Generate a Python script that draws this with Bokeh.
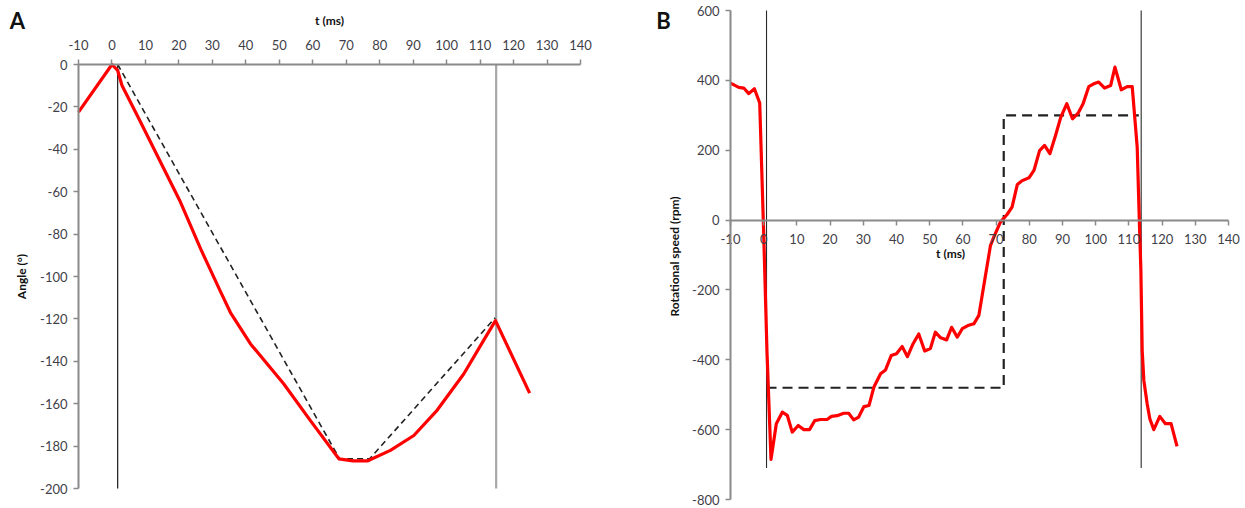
import math
from bokeh.plotting import figure
from bokeh.models import Range1d, LinearAxis, FixedTicker, Label
from bokeh.layouts import row
from bokeh.embed import file_html
from bokeh.resources import INLINE

# ---------------- Panel A data ----------------
a_t = [-10, 0, 1.7, 3, 8.5, 14.5, 20.5, 26.5, 32.4, 35.4, 41.4, 51.3, 59.3,
       67.8, 72, 76.3, 83.2, 90.2, 97.2, 105.1, 111.1, 114.6, 124.8]
a_angle = [-22.5, 0, -2.8, -9.9, -27, -46, -65, -87, -107, -117, -131.8, -150.6, -168,
           -186, -187, -187, -182, -175, -163, -146, -130, -120.8, -155]
a_model_t = [1.7, 68, 77, 114.5]
a_model_angle = [0, -186, -186, -119.5]
a_mark_t = [1.7, 114.8]
a_mark_color = ["#1a1a1a", "#a6a6a6"]
a_mark_width = [1.2, 2.2]
a_xticks = list(range(-10, 141, 10))
a_yticks = list(range(-200, 1, 20))

# ---------------- Panel B data ----------------
b_t = [-10, -7.5, -6, -4.5, -2.8, -1.2, 0, 1, 2.2, 3.8, 5.6, 7.1, 8.6, 10.4, 12.1,
       13.8, 15.4, 17.1, 19.1, 20.4, 22.1, 24.1, 25.6, 27.1, 28.6, 30.2, 31.7, 33.2,
       35.2, 36.7, 38.4, 40.0, 41.7, 43.3, 45.0, 46.7, 48.5, 50.2, 51.7, 53.3, 55.1,
       56.6, 58.3, 59.8, 61.5, 63.3, 64.8, 66.8, 68.3, 69.3, 71.3, 73.3, 74.8, 76.4,
       77.9, 79.9, 81.4, 83.1, 84.6, 86.2, 87.9, 89.5, 91.3, 93.0, 94.7, 96.2, 97.9,
       99.4, 100.9, 102.7, 104.5, 105.8, 107.7, 109.5, 111.0, 112.5, 113.2, 113.6,
       114.0, 114.5, 115.5, 116.3, 117.5, 119.3, 121.0, 122.7, 124.5]
b_rpm = [392, 380, 378, 362, 376, 335, -40, -380, -685, -583, -550, -559, -607, -588, -600,
         -600, -574, -571, -571, -562, -560, -553, -553, -572, -564, -534, -531, -478,
         -440, -429, -388, -383, -362, -391, -354, -326, -375, -368, -321, -337, -343,
         -307, -335, -311, -302, -297, -273, -159, -73, -49, -6, 16, 37, 102,
         113, 121, 142, 199, 214, 190, 242, 295, 333, 290, 306, 333, 382,
         390, 395, 378, 385, 438, 373, 382, 382, 209, -20, -140,
         -373, -459, -526, -569, -600, -562, -583, -583, -648]
assert len(b_t) == len(b_rpm)
b_model_t = [0.85, 72.3, 72.3, 113]
b_model_rpm = [-480, -480, 300, 300]
b_mark_t = [0.85, 113.7]
b_mark_top = [600, 600]
b_mark_bottom = [-710, -710]
b_xticks = list(range(-10, 141, 10))
b_yticks = list(range(-800, 601, 200))

FONT = "Lato"
TICK_COLOR = "#3f3f4a"
AXIS_COLOR = "#8a8a8a"
RED = "#ff0000"


def lin(p0, v0, p1, v1):
    """page pixel -> data value (layout helper)"""
    return lambda p: v0 + (p - p0) * (v1 - v0) / (p1 - p0)


def make_axis(loc, bounds, ticks, standoff):
    ax = LinearAxis(fixed_location=loc, bounds=bounds, ticker=FixedTicker(ticks=ticks),
                    major_label_overrides={t: str(t) for t in ticks})
    ax.axis_line_color = AXIS_COLOR
    ax.axis_line_width = 2
    ax.major_tick_line_color = AXIS_COLOR
    ax.major_tick_line_width = 1.5
    ax.major_tick_out = 5
    ax.major_tick_in = 0
    ax.minor_tick_line_color = None
    ax.major_label_text_font = FONT
    ax.major_label_text_font_size = "13px"
    ax.major_label_text_color = TICK_COLOR
    ax.major_label_standoff = standoff
    return ax


def text_label(x, y, text, size, angle=0.0):
    return Label(x=x, y=y, text=text, angle=angle, text_font=FONT, text_font_style="bold",
                 text_font_size=size, text_color="#111111",
                 text_align="center", text_baseline="middle")


# ---------------- Panel A ----------------
A_LEFT, A_RIGHT, A_TOP, A_BOTTOM = 0, 620, 0, 500
ax_x = lin(78, -10, 580, 140)
ax_y = lin(64, 0, 488, -200)
pA = figure(width=A_RIGHT - A_LEFT, height=A_BOTTOM - A_TOP, output_backend="svg",
            toolbar_location=None,
            x_range=Range1d(ax_x(A_LEFT), ax_x(A_RIGHT)),
            y_range=Range1d(ax_y(A_BOTTOM), ax_y(A_TOP)),
            x_axis_location=None, y_axis_location=None, min_border=0)
pA.outline_line_color = None
pA.grid.visible = False
pA.add_layout(make_axis(0, (-10, 140), a_xticks, 10), "above")
pA.add_layout(make_axis(-10, (-200, 0), a_yticks, 6), "left")

for t, c, w in zip(a_mark_t, a_mark_color, a_mark_width):
    pA.segment(x0=[t], y0=[0], x1=[t], y1=[-200], line_color=c, line_width=w)
pA.line(a_model_t, a_model_angle, line_color="#222222", line_width=1.6, line_dash="6 4")
pA.line(a_t, a_angle, line_color=RED, line_width=3.2, line_join="round")

pA.add_layout(text_label(ax_x(329), ax_y(20), "t (ms)", "12px"))
pA.add_layout(text_label(ax_x(21), ax_y(276), "Angle (°)", "12px", math.pi / 2))
pA.add_layout(text_label(ax_x(17), ax_y(20), "A", "22px"))

# ---------------- Panel B ----------------
B_LEFT, B_RIGHT, B_TOP, B_BOTTOM = 620, 1240, 0, 506
bx_x = lin(730, -10, 1228, 140)
bx_y = lin(10, 600, 499, -800)
pB = figure(width=B_RIGHT - B_LEFT, height=B_BOTTOM - B_TOP, output_backend="svg",
            toolbar_location=None,
            x_range=Range1d(bx_x(B_LEFT), bx_x(B_RIGHT)),
            y_range=Range1d(bx_y(B_BOTTOM), bx_y(B_TOP)),
            x_axis_location=None, y_axis_location=None, min_border=0)
pB.outline_line_color = None
pB.grid.visible = False
pB.add_layout(make_axis(-10, (-800, 600), b_yticks, 6), "left")
pB.add_layout(make_axis(0, (-10, 140), b_xticks, 9), "below")

pB.segment(x0=b_mark_t, y0=b_mark_top, x1=b_mark_t, y1=b_mark_bottom,
           line_color="#2a2a2a", line_width=1.1)
pB.line(b_model_t, b_model_rpm, line_color="#222222", line_width=2.2, line_dash="10 6")
pB.line(b_t, b_rpm, line_color=RED, line_width=3.2, line_join="round")

pB.add_layout(text_label(bx_x(950), bx_y(253), "t (ms)", "12px"))
pB.add_layout(text_label(bx_x(674), bx_y(256), "Rotational speed (rpm)", "12px", math.pi / 2))
pB.add_layout(text_label(bx_x(663), bx_y(20), "B", "22px"))

layout = row(pA, pB)
open("out.html", "w").write(file_html(layout, INLINE))
